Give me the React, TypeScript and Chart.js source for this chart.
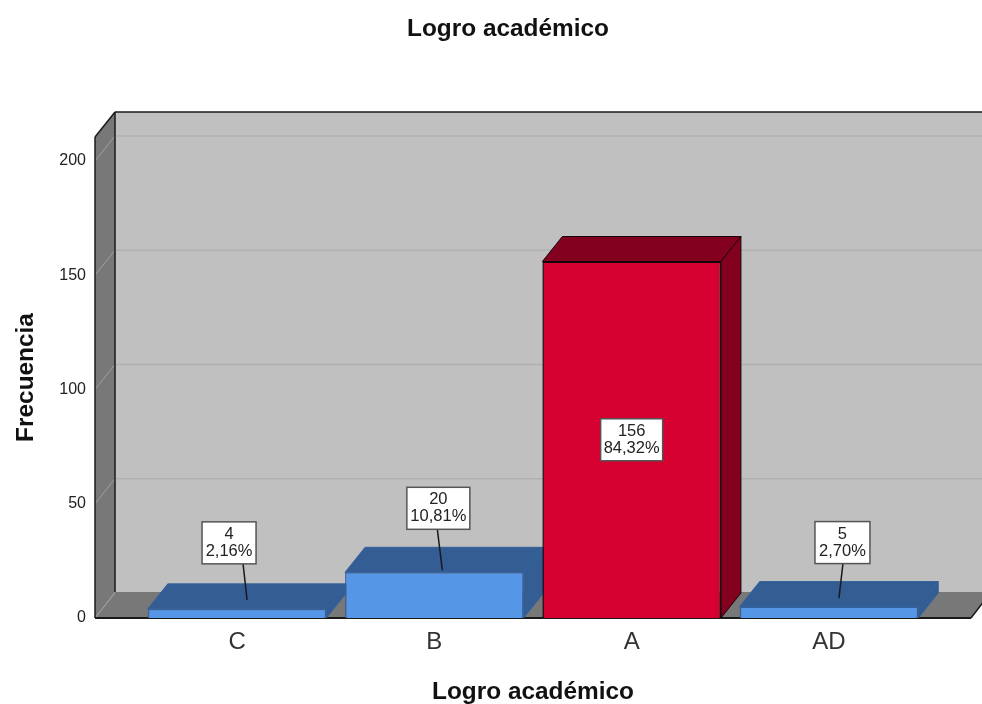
import React, { useEffect, useRef } from "react";
import { Chart, registerables } from "chart.js";

Chart.register(...registerables);

const categories = ["C", "B", "A", "AD"];
const frequencies = [4, 20, 156, 5];
const percentages = ["2,16%", "10,81%", "84,32%", "2,70%"];
const yTickValues = [0, 50, 100, 150, 200];
const chartTitle = "Logro académico";
const xTitle = "Logro académico";
const yTitle = "Frecuencia";

const FONT = "'Liberation Sans', Arial, sans-serif";
const DX = 20;
const DY = 25;
const frontColors = ["#5596e6", "#5596e6", "#d60030", "#5596e6"];
const darkColors = ["#335d93", "#335d93", "#83001f", "#335d93"];
const edgeColors = ["#34629c", "#34629c", "#14060a", "#34629c"];
// callout box centre / leader offsets relative to each bar
const callouts = [
  { cx: -8, cy: -66, w: 54, startX: 6, tipX: 10, tipY: -9, leader: true },
  { cx: 4, cy: -64, w: 63, startX: 3, tipX: 8, tipY: -2, leader: true },
  { cx: 0, cy: 0, w: 62, startX: 0, tipX: 0, tipY: 0, leader: false },
  { cx: 13.5, cy: -64, w: 55, startX: 14, tipX: 10, tipY: -8.5, leader: true },
];

function poly(ctx: CanvasRenderingContext2D, pts: number[][], fill: string, stroke?: string, lw = 1) {
  ctx.beginPath();
  pts.forEach((p, i) => (i ? ctx.lineTo(p[0], p[1]) : ctx.moveTo(p[0], p[1])));
  ctx.closePath();
  ctx.fillStyle = fill;
  ctx.fill();
  if (stroke) {
    ctx.strokeStyle = stroke;
    ctx.lineWidth = lw;
    ctx.stroke();
  }
}

function line(ctx: CanvasRenderingContext2D, x1: number, y1: number, x2: number, y2: number, c: string, lw = 1) {
  ctx.beginPath();
  ctx.moveTo(x1, y1);
  ctx.lineTo(x2, y2);
  ctx.strokeStyle = c;
  ctx.lineWidth = lw;
  ctx.stroke();
}

const boxPlugin = {
  id: "box3d",
  afterLayout(chart: any) {
    if (chart.titleBlock) {
      chart.titleBlock.left = 45;
    }
  },
  beforeDatasetsDraw(chart: any) {
    const ctx: CanvasRenderingContext2D = chart.ctx;
    const { left, right, top, bottom } = chart.chartArea;
    const y = chart.scales.y;
    ctx.save();
    // back wall, left wall, floor
    poly(ctx, [[left + DX, top - DY], [right + DX, top - DY], [right + DX, bottom - DY - 1], [left + DX, bottom - DY - 1]], "#c0c0c0");
    poly(ctx, [[left, top], [left + DX, top - DY], [left + DX, bottom - DY - 1], [left, bottom]], "#787878");
    poly(ctx, [[left, bottom], [left + DX, bottom - DY - 1], [right + DX, bottom - DY - 1], [right, bottom]], "#787878");
    // grid lines
    yTickValues.forEach((v) => {
      const py = y.getPixelForValue(v);
      if (v > 0) line(ctx, left + DX, py - DY, right + DX, py - DY, "#b0b0b0", 1.5);
      line(ctx, left, py, left + DX, py - DY, "#a0a0a0", 1);
    });
    // frame
    line(ctx, left + DX, top - DY, right + DX, top - DY, "#1a1a1a", 1.5);
    line(ctx, left, top, left + DX, top - DY, "#1a1a1a", 1.5);
    line(ctx, left, top, left, bottom, "#1a1a1a", 1.5);
    line(ctx, left + DX, top - DY, left + DX, bottom - DY - 1, "#1a1a1a", 1.5);
    line(ctx, left, bottom, right, bottom, "#1a1a1a", 2);
    line(ctx, right, bottom, right + DX, bottom - DY - 1, "#1a1a1a", 1.5);
    // bar tops and sides
    const meta = chart.getDatasetMeta(0);
    meta.data.forEach((bar: any, i: number) => {
      const half = bar.width / 2;
      const l = bar.x - half;
      const r = bar.x + half;
      const t = bar.y;
      const b = bar.base;
      poly(ctx, [[l, t], [l + DX, t - DY], [r + DX, t - DY], [r, t]], darkColors[i], edgeColors[i]);
      poly(ctx, [[r, t], [r + DX, t - DY], [r + DX, b - DY], [r, b]], darkColors[i], edgeColors[i]);
    });
    ctx.restore();
  },
  afterDatasetsDraw(chart: any) {
    const ctx: CanvasRenderingContext2D = chart.ctx;
    const meta = chart.getDatasetMeta(0);
    ctx.save();
    meta.data.forEach((bar: any, i: number) => {
      const c = callouts[i];
      const anchorY = c.leader ? bar.y : (bar.y + bar.base) / 2;
      const bx = bar.x + c.cx;
      const by = anchorY + c.cy;
      const h = 42;
      if (c.leader) {
        line(ctx, bar.x + c.startX, by + h / 2, bar.x + c.tipX, anchorY + c.tipY, "#1a1a1a", 1.5);
      }
      ctx.fillStyle = "#ffffff";
      ctx.fillRect(bx - c.w / 2, by - h / 2, c.w, h);
      ctx.strokeStyle = "#555555";
      ctx.lineWidth = 1.5;
      ctx.strokeRect(bx - c.w / 2, by - h / 2, c.w, h);
      ctx.fillStyle = "#222222";
      ctx.font = `16.5px ${FONT}`;
      ctx.textAlign = "center";
      ctx.textBaseline = "middle";
      ctx.fillText(String(frequencies[i]), bx, by - 8.5);
      ctx.fillText(percentages[i], bx, by + 8.5);
    });
    ctx.restore();
  },
};

export default function App() {
  const ref = useRef<HTMLCanvasElement>(null);
  useEffect(() => {
    const chart = new Chart(ref.current as HTMLCanvasElement, {
      type: "bar",
      plugins: [boxPlugin],
      data: {
        datasets: [
          {
            data: frequencies.map((v, i) => ({ x: i, y: v })),
            backgroundColor: frontColors,
            borderColor: edgeColors,
            borderWidth: 1.5,
            barPercentage: 0.905,
            categoryPercentage: 1,
          },
        ],
      },
      options: {
        animation: false,
        responsive: false,
        devicePixelRatio: 1,
        layout: { padding: { left: 0, right: 11, top: 0, bottom: 0 } },
        plugins: {
          legend: { display: false },
          tooltip: { enabled: false },
          title: {
            display: true,
            text: chartTitle,
            color: "#111111",
            font: { family: FONT, size: 24.4, weight: "bold", lineHeight: 1.2 },
            padding: { top: 14.5, bottom: 93.2 },
          },
        },
        scales: {
          x: {
            type: "linear",
            offset: false,
            min: -0.72,
            max: 3.72,
            grid: { display: false, drawTicks: false },
            border: { display: false },
            afterBuildTicks: (s: any) => {
              s.ticks = categories.map((_, i) => ({ value: i }));
            },
            afterFit: (s: any) => {
              s.height = 86;
            },
            ticks: {
              autoSkip: false,
              maxRotation: 0,
              padding: 10,
              color: "#333333",
              font: { family: FONT, size: 24 },
              callback: (v: any) => categories[v] ?? "",
            },
            title: {
              display: true,
              text: xTitle,
              color: "#111111",
              font: { family: FONT, size: 24.4, weight: "bold" },
              padding: { top: 0, bottom: -3 },
            },
          },
          y: {
            type: "linear",
            min: 0,
            max: 210.5,
            grid: { display: false, drawTicks: false },
            border: { display: false },
            afterBuildTicks: (s: any) => {
              s.ticks = yTickValues.map((v) => ({ value: v }));
            },
            afterFit: (s: any) => {
              s.width = 95;
            },
            ticks: {
              padding: 9,
              color: "#222222",
              font: { family: FONT, size: 16 },
            },
            title: {
              display: true,
              text: yTitle,
              color: "#111111",
              font: { family: FONT, size: 24.4, weight: "bold" },
              padding: { top: 11.5, bottom: 0 },
            },
          },
        },
      },
    } as any);
    return () => chart.destroy();
  }, []);
  return (
    <canvas
      ref={ref}
      width={982}
      height={704}
      style={{ position: "absolute", left: 0, top: 0, display: "block" }}
    />
  );
}
